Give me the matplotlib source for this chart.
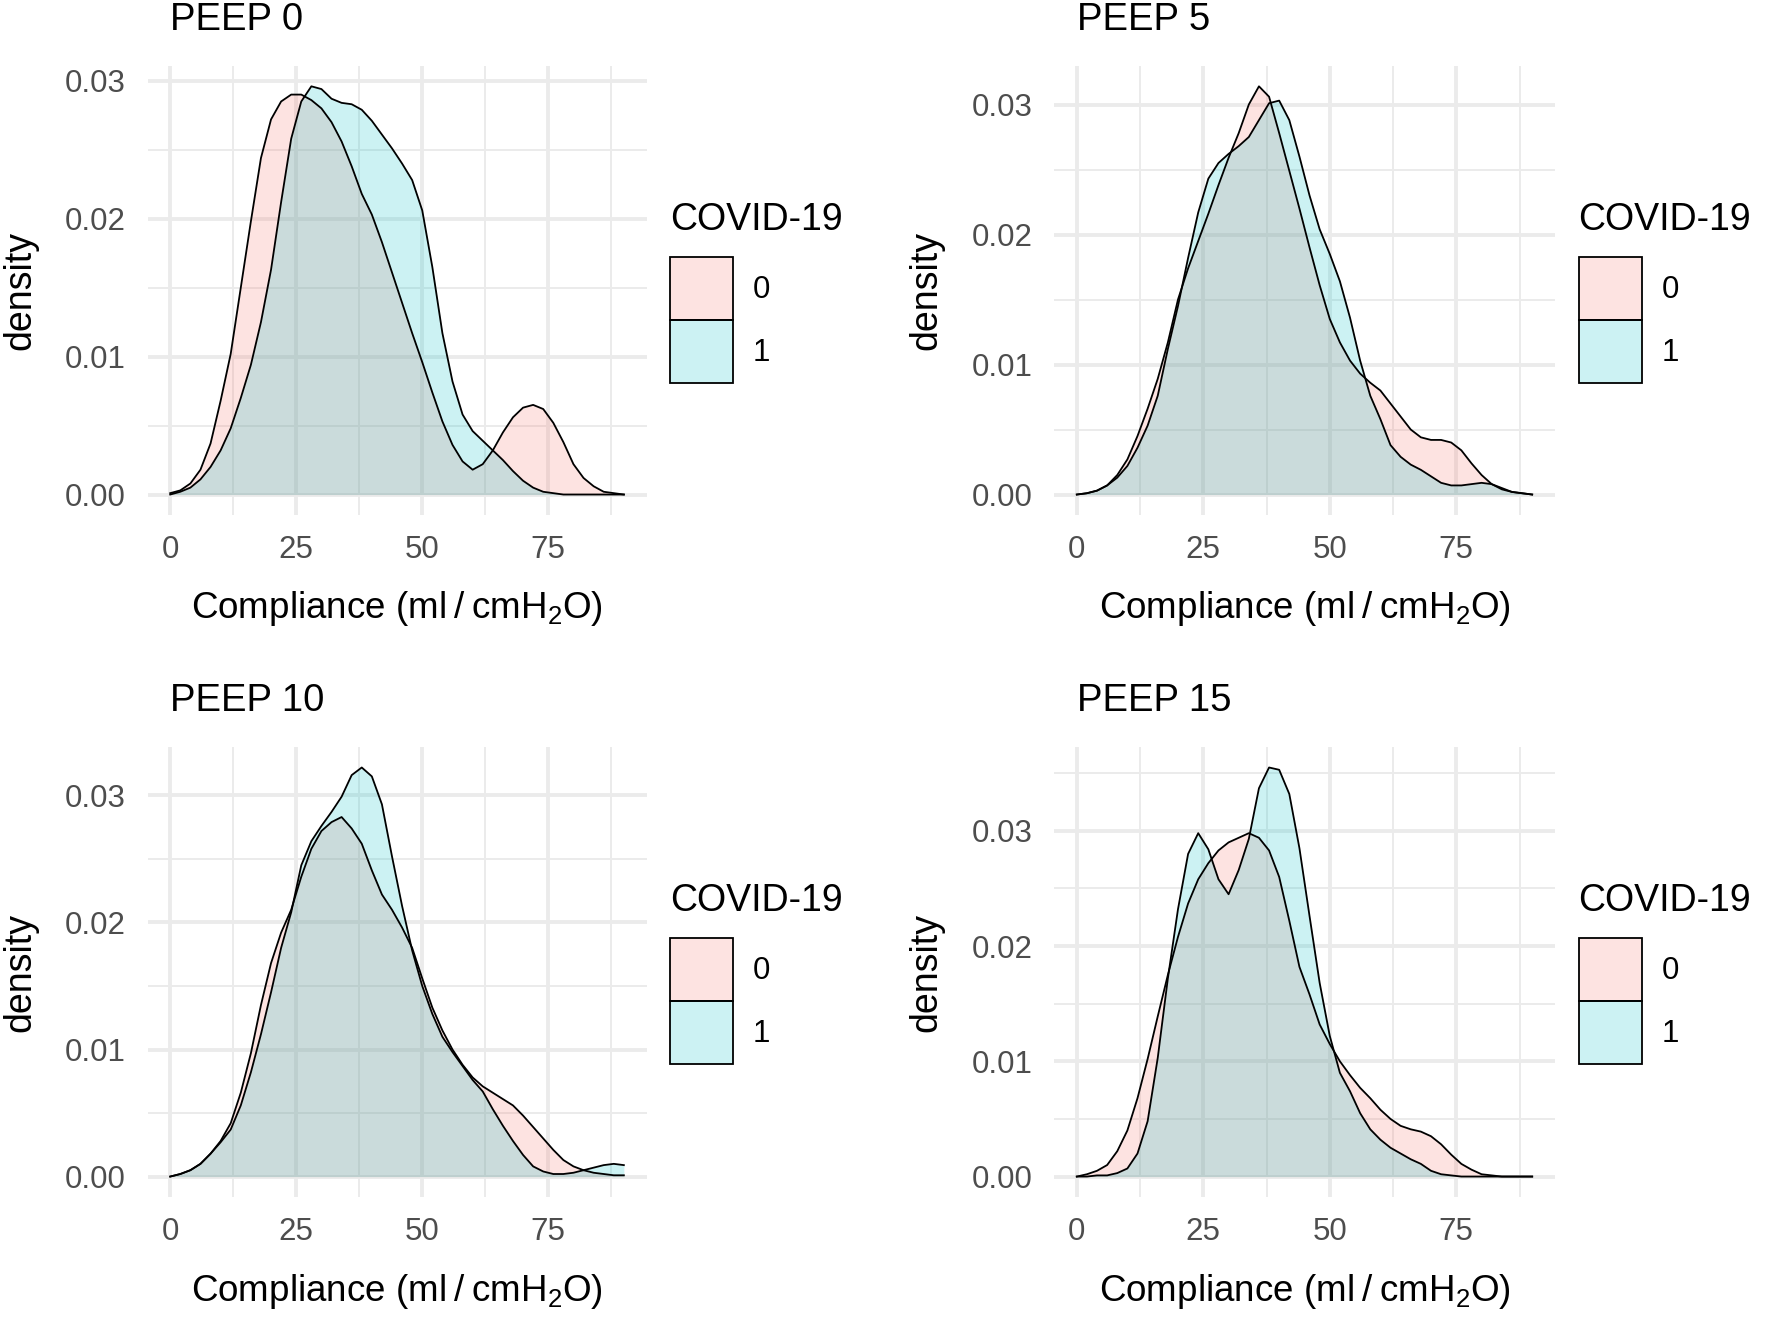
import numpy as np
import matplotlib.pyplot as plt
from matplotlib.patches import Patch
from matplotlib.ticker import MultipleLocator, FormatStrFormatter

plt.rcParams['font.family'] = ['Liberation Sans', 'DejaVu Sans']
plt.rcParams['mathtext.fontset'] = 'custom'
plt.rcParams['mathtext.rm'] = 'Liberation Sans'
plt.rcParams['mathtext.it'] = 'Liberation Sans:italic'
plt.rcParams['mathtext.default'] = 'regular'

# density curves, compliance 0..90 ml/cmH2O every 2
compliance = np.arange(0, 92, 2)

peep0_covid0 = [0.0001, 0.0003, 0.0008, 0.0018, 0.0037, 0.0068, 0.0102, 0.0150, 0.0198, 0.0244,
                0.0272, 0.0285, 0.0290, 0.0290, 0.0286, 0.0280, 0.0270, 0.0256, 0.0238, 0.0218,
                0.0203, 0.0183, 0.0161, 0.0139, 0.0117, 0.0096, 0.0074, 0.0053, 0.0036, 0.0024,
                0.0018, 0.0022, 0.0032, 0.0045, 0.0056, 0.0063, 0.0065, 0.0062, 0.0052, 0.0038,
                0.0022, 0.0012, 0.0006, 0.0002, 0.0001, 0.0000]
peep0_covid1 = [0.0000, 0.0002, 0.0005, 0.0011, 0.0020, 0.0032, 0.0048, 0.0070, 0.0094, 0.0125,
                0.0163, 0.0212, 0.0258, 0.0285, 0.0296, 0.0294, 0.0287, 0.0284, 0.0283, 0.0279,
                0.0271, 0.0261, 0.0251, 0.0240, 0.0228, 0.0206, 0.0165, 0.0117, 0.0082, 0.0058,
                0.0046, 0.0039, 0.0032, 0.0025, 0.0017, 0.0010, 0.0005, 0.0002, 0.0001, 0.0000,
                0.0000, 0.0000, 0.0000, 0.0000, 0.0000, 0.0000]

peep5_covid0 = [0.0000, 0.0001, 0.0003, 0.0007, 0.0015, 0.0027, 0.0045, 0.0066, 0.0089, 0.0117,
                0.0150, 0.0174, 0.0195, 0.0216, 0.0238, 0.0259, 0.0278, 0.0300, 0.0314, 0.0306,
                0.0278, 0.0249, 0.0220, 0.0190, 0.0161, 0.0135, 0.0117, 0.0103, 0.0093, 0.0086,
                0.0080, 0.0070, 0.0060, 0.0050, 0.0044, 0.0042, 0.0042, 0.0040, 0.0034, 0.0024,
                0.0015, 0.0008, 0.0004, 0.0002, 0.0001, 0.0000]
peep5_covid1 = [0.0000, 0.0001, 0.0003, 0.0007, 0.0013, 0.0022, 0.0036, 0.0053, 0.0076, 0.0112,
                0.0145, 0.0182, 0.0217, 0.0243, 0.0255, 0.0262, 0.0268, 0.0275, 0.0288, 0.0301,
                0.0303, 0.0288, 0.0260, 0.0230, 0.0204, 0.0185, 0.0164, 0.0136, 0.0103, 0.0076,
                0.0058, 0.0038, 0.0029, 0.0023, 0.0019, 0.0014, 0.0009, 0.0007, 0.0007, 0.0008,
                0.0009, 0.0008, 0.0005, 0.0002, 0.0001, 0.0000]

peep10_covid0 = [0.0000, 0.0002, 0.0005, 0.0010, 0.0018, 0.0028, 0.0042, 0.0066, 0.0097, 0.0135,
                 0.0168, 0.0192, 0.0210, 0.0236, 0.0258, 0.0272, 0.0279, 0.0283, 0.0274, 0.0262,
                 0.0241, 0.0222, 0.0210, 0.0196, 0.0180, 0.0156, 0.0133, 0.0115, 0.0100, 0.0088,
                 0.0078, 0.0071, 0.0066, 0.0061, 0.0056, 0.0048, 0.0039, 0.0030, 0.0021, 0.0013,
                 0.0008, 0.0005, 0.0003, 0.0002, 0.0001, 0.0001]
peep10_covid1 = [0.0000, 0.0002, 0.0005, 0.0010, 0.0018, 0.0027, 0.0037, 0.0056, 0.0082, 0.0112,
                 0.0145, 0.0180, 0.0208, 0.0245, 0.0264, 0.0276, 0.0287, 0.0299, 0.0316, 0.0322,
                 0.0315, 0.0293, 0.0252, 0.0213, 0.0178, 0.0150, 0.0128, 0.0110, 0.0098, 0.0087,
                 0.0076, 0.0067, 0.0053, 0.0040, 0.0028, 0.0017, 0.0008, 0.0004, 0.0002, 0.0002,
                 0.0003, 0.0005, 0.0007, 0.0009, 0.0010, 0.0009]

peep15_covid0 = [0.0000, 0.0002, 0.0005, 0.0010, 0.0022, 0.0040, 0.0068, 0.0102, 0.0139, 0.0175,
                 0.0208, 0.0237, 0.0258, 0.0272, 0.0283, 0.0290, 0.0294, 0.0298, 0.0294, 0.0283,
                 0.0260, 0.0222, 0.0182, 0.0158, 0.0132, 0.0115, 0.0100, 0.0088, 0.0077, 0.0068,
                 0.0058, 0.0050, 0.0044, 0.0041, 0.0039, 0.0035, 0.0028, 0.0019, 0.0011, 0.0006,
                 0.0002, 0.0001, 0.0000, 0.0000, 0.0000, 0.0000]
peep15_covid1 = [0.0000, 0.0000, 0.0001, 0.0001, 0.0003, 0.0007, 0.0020, 0.0048, 0.0103, 0.0172,
                 0.0232, 0.0280, 0.0298, 0.0284, 0.0258, 0.0245, 0.0266, 0.0293, 0.0337, 0.0355,
                 0.0353, 0.0332, 0.0285, 0.0226, 0.0168, 0.0122, 0.0090, 0.0074, 0.0055, 0.0041,
                 0.0032, 0.0025, 0.0020, 0.0015, 0.0011, 0.0005, 0.0002, 0.0001, 0.0000, 0.0000,
                 0.0000, 0.0000, 0.0000, 0.0000, 0.0000, 0.0000]

titles = ["PEEP 0", "PEEP 5", "PEEP 10", "PEEP 15"]
groups = ["0", "1"]
fills = ["#F8766D", "#00BFC4"]
panels = [(peep0_covid0, peep0_covid1), (peep5_covid0, peep5_covid1),
          (peep10_covid0, peep10_covid1), (peep15_covid0, peep15_covid1)]

fig = plt.figure(figsize=(17.67, 13.18), dpi=100)
positions = [[0.0835, 0.6093, 0.2824, 0.3407], [0.5965, 0.6093, 0.2835, 0.3407],
             [0.0835, 0.0918, 0.2824, 0.3414], [0.5965, 0.0918, 0.2835, 0.3414]]

grey30 = "#4D4D4D"
for pos, title, dens in zip(positions, titles, panels):
    ax = fig.add_axes(pos)
    for d, col in zip(dens, fills):
        ax.fill_between(compliance, d, color=col, alpha=0.2, lw=0)
        ax.plot(compliance, d, color="black", lw=1.3)
    ymax = max(max(dens[0]), max(dens[1]))
    ax.set_xlim(-4.5, 94.5)
    ax.set_ylim(-0.05 * ymax, 1.05 * ymax)

    ax.xaxis.set_major_locator(MultipleLocator(25))
    ax.xaxis.set_minor_locator(MultipleLocator(12.5))
    ax.yaxis.set_major_locator(MultipleLocator(0.01))
    ax.yaxis.set_minor_locator(MultipleLocator(0.005))
    ax.yaxis.set_major_formatter(FormatStrFormatter("%.2f"))
    ax.grid(which="major", color="#EBEBEB", lw=2.8)
    ax.grid(which="minor", color="#EBEBEB", lw=1.4)
    ax.set_axisbelow(True)
    for s in ax.spines.values():
        s.set_visible(False)
    ax.tick_params(which="both", length=0)
    ax.tick_params(axis="y", pad=15.5, labelsize=22.5, labelcolor=grey30)
    ax.tick_params(axis="x", pad=14.5, labelsize=22.5, labelcolor=grey30)

    ax.set_xlabel("Compliance (ml\u2009/\u2009cmH$_2$O)", fontsize=26.5)
    ax.xaxis.set_label_coords(0.5, -0.166)
    ax.set_ylabel("density", fontsize=27)
    ax.yaxis.set_label_coords(-0.219, 0.5)

    ax.text(0.045, 1.08, title, transform=ax.transAxes, fontsize=27.5,
            ha="left", va="baseline")

    ax.text(1.047, 0.6347, "COVID-19", transform=ax.transAxes, fontsize=27,
            ha="left", va="baseline")
    handles = [Patch(facecolor=c, alpha=0.2, edgecolor="black", lw=1.3) for c in fills]
    leg = ax.legend(handles, groups, loc="upper left", bbox_to_anchor=(1.047, 0.5746),
                    frameon=False, fontsize=22.5, labelspacing=0, borderpad=0,
                    borderaxespad=0, handlelength=2.03, handleheight=2.725,
                    handletextpad=0.62)
    for h in leg.legend_handles:
        h.set_edgecolor("black")
        h.set_facecolor(h.get_facecolor()[:3] + (0.2,))
        h.set_alpha(None)

fig.savefig("out.png", dpi=100)
